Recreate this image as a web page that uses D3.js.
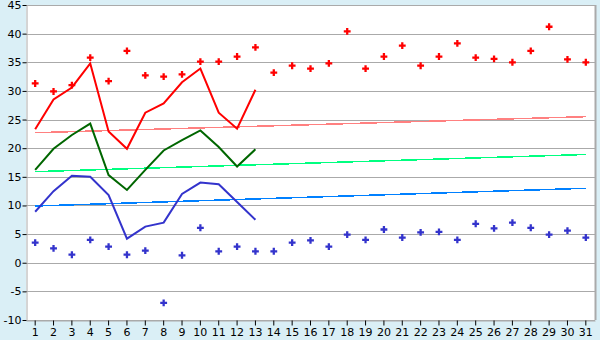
<!DOCTYPE html>
<html lang="en">
<head>
    <meta charset="UTF-8">
    <title>Chart</title>
    <script src="https://d3js.org/d3.v7.min.js"></script>
    <style>
        body { margin: 0; background: #daeff6; }
        text { font-family: "DejaVu Sans", Verdana, sans-serif; font-size: 11px; fill: #000; }
    </style>
</head>
<body>
    <div id="chart"></div>
    <script>
// data
const days = d3.range(1, 32).map(String);
const yTicks = [-10, -5, 0, 5, 10, 15, 20, 25, 30, 35, 40, 45];

const redPoints = [31.3, 29.9, 31.0, 35.8, 31.7, 37.0, 32.7, 32.5, 32.9, 35.1, 35.1, 36.0, 37.6, 33.2, 34.4, 33.9,
    34.8, 40.4, 33.9, 36.0, 37.9, 34.4, 36.0, 38.3, 35.8, 35.6, 35.0, 37.0, 41.2, 35.5, 35.0];
const bluePoints = [3.5, 2.5, 1.4, 4.0, 2.8, 1.4, 2.1, -7.0, 1.3, 6.1, 2.0, 2.8, 2.0, 2.0, 3.5, 3.9,
    2.8, 4.9, 4.0, 5.8, 4.4, 5.3, 5.4, 4.0, 6.8, 6.0, 7.0, 6.1, 4.9, 5.6, 4.4];

const redLine = [23.3, 28.5, 30.6, 34.8, 22.9, 19.9, 26.2, 27.8, 31.5, 33.9, 26.2, 23.4, 30.2];
const greenLine = [16.2, 19.9, 22.3, 24.3, 15.3, 12.7, 16.2, 19.6, 21.4, 23.1, 20.2, 16.8, 19.8];
const blueLine = [8.9, 12.5, 15.2, 15.0, 11.8, 4.2, 6.3, 7.0, 12.0, 14.0, 13.7, 10.6, 7.5];

// trend lines: value at day 1 and day 31
const trendRed = [22.7, 25.5];
const trendGreen = [15.9, 18.9];
const trendBlue = [9.9, 13.0];

const width = 600, height = 340;
const mLeft = 26, mRight = 595, mTop = 5, mBottom = 320;

const svg = d3.select("#chart").append("svg")
    .attr("width", width)
    .attr("height", height);

const x = d3.scaleBand().domain(days).range([mLeft, mRight]);
const y = d3.scaleLinear().domain([-10, 45]).range([mBottom, mTop]);
const cx = d => x(d) + x.bandwidth() / 2;

svg.append("rect")
    .attr("x", mLeft).attr("y", mTop)
    .attr("width", mRight - mLeft).attr("height", mBottom - mTop)
    .attr("fill", "#fff");

// gridlines
svg.append("g")
    .selectAll("line")
    .data(yTicks)
    .join("line")
    .attr("x1", mLeft).attr("x2", mRight)
    .attr("y1", d => Math.round(y(d)) + 0.5).attr("y2", d => Math.round(y(d)) + 0.5)
    .attr("stroke", "#aaa");

// frame right
svg.append("line").attr("x1", mRight + 0.5).attr("x2", mRight + 0.5).attr("y1", mTop).attr("y2", mBottom)
    .attr("stroke", "#aaa").attr("stroke-width", 2);

const yAxis = svg.append("g")
    .attr("transform", `translate(${mLeft + 0.5},0)`)
    .call(d3.axisLeft(y).tickValues(yTicks).tickSize(4).tickSizeOuter(0).tickFormat(d => String(d)));
yAxis.select(".domain").attr("stroke", "#aaa");
yAxis.selectAll(".tick line").attr("stroke", "#000");
yAxis.selectAll("text").attr("x", -5);

const xAxis = svg.append("g")
    .attr("transform", `translate(0,${Math.round(y(-10)) + 0.5})`)
    .call(d3.axisBottom(x).tickSize(5).tickSizeOuter(0));
xAxis.select(".domain").attr("stroke", "#aaa");
xAxis.selectAll(".tick line").attr("stroke", "#000");
xAxis.selectAll("text").attr("y", 8);
svg.selectAll(".tick text").style("font-family", "DejaVu Sans, sans-serif").style("font-size", "11px");

// trend lines
const trends = [[trendRed, "#ff8080"], [trendGreen, "#00ff80"], [trendBlue, "#0080ff"]];
trends.forEach(([t, c]) => {
    svg.append("line")
        .attr("x1", cx(days[0])).attr("x2", cx(days[30]))
        .attr("y1", y(t[0])).attr("y2", y(t[1]))
        .attr("stroke", c).attr("stroke-width", 1.5)
        .attr("shape-rendering", "crispEdges");
});

// lines
const line = d3.line().x((d, i) => cx(days[i])).y(d => y(d));
[[redLine, "#ff0000"], [greenLine, "#006600"], [blueLine, "#3333cc"]].forEach(([s, c]) => {
    svg.append("path")
        .attr("d", line(s))
        .attr("fill", "none")
        .attr("stroke", c)
        .attr("stroke-width", 2);
});

// point markers
const cross = d3.symbol().type(d3.symbolCross).size(26);
[[redPoints, "#ff0000"], [bluePoints, "#3333cc"]].forEach(([s, c]) => {
    svg.append("g")
        .selectAll("path")
        .data(s)
        .join("path")
        .attr("transform", (d, i) => `translate(${cx(days[i])},${y(d)})`)
        .attr("d", cross)
        .attr("fill", c);
});
    </script>
</body>
</html>
